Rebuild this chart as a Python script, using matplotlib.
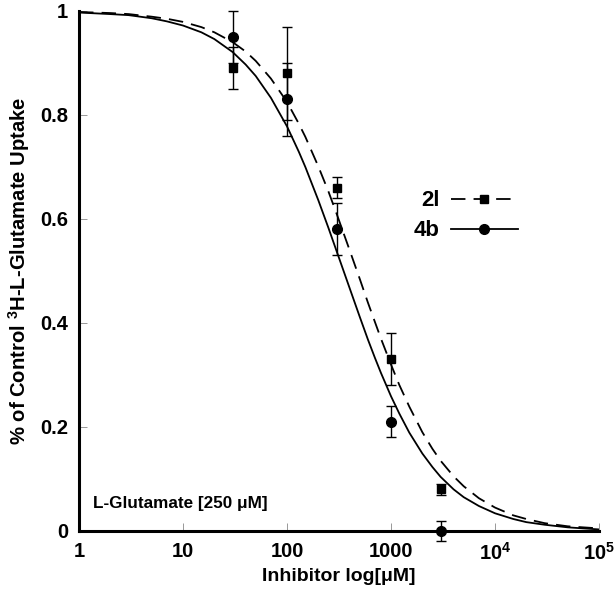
import matplotlib
matplotlib.use("Agg")
import matplotlib.pyplot as plt
from matplotlib.ticker import FixedLocator, FixedFormatter

plt.rcParams['font.family'] = ['Liberation Sans', 'DejaVu Sans']
plt.rcParams['font.weight'] = 'bold'
plt.rcParams['mathtext.default'] = 'regular'

# measured points (concentration in uM, fraction of control uptake)
conc = [30, 100, 300, 1000, 3000]
uptake_2l = [0.89, 0.88, 0.66, 0.33, 0.08]
err_2l = [0.04, 0.09, 0.02, 0.05, 0.01]
uptake_4b = [0.95, 0.83, 0.58, 0.21, 0.0]
err_4b = [0.05, 0.07, 0.05, 0.03, 0.02]

# fitted curves
curve_x = [1, 2, 3, 5, 7, 10, 15, 20, 30, 40, 50, 70, 100, 130, 150, 200,
           250, 300, 400, 500, 600, 700, 800, 1000, 1200, 1500, 2000, 2500,
           3000, 4000, 5000, 7000, 1e4, 1.5e4, 2e4, 3e4, 5e4, 7e4, 1e5]
curve_2l = [0.998, 0.996, 0.994, 0.989, 0.985, 0.979, 0.969, 0.959, 0.940,
            0.922, 0.904, 0.870, 0.825, 0.783, 0.758, 0.701, 0.653, 0.610,
            0.540, 0.485, 0.439, 0.402, 0.370, 0.320, 0.281, 0.239, 0.190,
            0.158, 0.135, 0.105, 0.086, 0.063, 0.045, 0.030, 0.023, 0.015,
            0.009, 0.007, 0.005]
curve_4b = [0.997, 0.994, 0.992, 0.986, 0.980, 0.972, 0.959, 0.946, 0.921,
            0.897, 0.875, 0.833, 0.778, 0.729, 0.700, 0.636, 0.583, 0.538,
            0.467, 0.412, 0.368, 0.333, 0.304, 0.259, 0.226, 0.189, 0.149,
            0.123, 0.104, 0.080, 0.065, 0.048, 0.034, 0.023, 0.017, 0.012,
            0.007, 0.005, 0.003]

x_ticks = [1, 10, 100, 1000, 1e4, 1e5]
x_labels = ['1', '10', '100', '1000', '$10^4$', '$10^5$']
y_ticks = [0, 0.2, 0.4, 0.6, 0.8, 1]
y_labels = ['0', '0.2', '0.4', '0.6', '0.8', '1']

fig = plt.figure(figsize=(6.14, 5.93), dpi=100)
ax = fig.add_axes([0.1287, 0.1046, 0.8469, 0.8769])

ax.plot(curve_x, curve_2l, color='black', lw=1.3, dashes=(8, 4.5))
ax.plot(curve_x, curve_4b, color='black', lw=1.3)

ax.errorbar(conc, uptake_2l, yerr=err_2l, fmt='s', color='black', ms=6,
            elinewidth=1, capsize=3.5, capthick=1, clip_on=False, zorder=3)
ax.errorbar(conc, uptake_4b, yerr=err_4b, fmt='o', color='black', ms=7,
            elinewidth=1, capsize=3.5, capthick=1, clip_on=False, zorder=3)

# legend handles
h1, = ax.plot([], [], color='black', lw=1.3, dashes=(8, 4.5), marker='s', ms=6)
h2, = ax.plot([], [], color='black', lw=1.3, marker='o', ms=7)
ax.legend([h1, h2], ['2l', '4b'], loc='center left',
          bbox_to_anchor=(0.605, 0.606), frameon=False, markerfirst=False,
          handlelength=3.05, handletextpad=0.5, labelspacing=0.4,
          prop={'size': 16, 'weight': 'bold'})

ax.text(1.36, 0.052, 'L-Glutamate [250 \u03bcM]', fontsize=12.3,
        fontweight='bold', va='center', ha='left')

ax.set_xscale('log')
ax.set_xlim(1, 1e5)
ax.set_ylim(0, 1)
ax.xaxis.set_major_locator(FixedLocator(x_ticks))
ax.xaxis.set_major_formatter(FixedFormatter(x_labels))
ax.xaxis.set_minor_locator(FixedLocator([]))
ax.set_yticks(y_ticks)
ax.set_yticklabels(y_labels)

for side in ['top', 'right']:
    ax.spines[side].set_visible(False)
for side in ['left', 'bottom']:
    ax.spines[side].set_linewidth(2.2)

ax.tick_params(direction='in', length=6, width=0.6, color='#888888',
               labelsize=14.5, pad=8)
for lab in ax.get_xticklabels() + ax.get_yticklabels():
    lab.set_fontweight('bold')

ax.set_xlabel('Inhibitor log[\u03bcM]', fontsize=14, fontweight='bold',
              labelpad=3)
ax.set_ylabel('% of Control $^{3}$H-L-Glutamate Uptake', fontsize=14.6,
              fontweight='bold', labelpad=6)

fig.savefig('out.png', dpi=100)
